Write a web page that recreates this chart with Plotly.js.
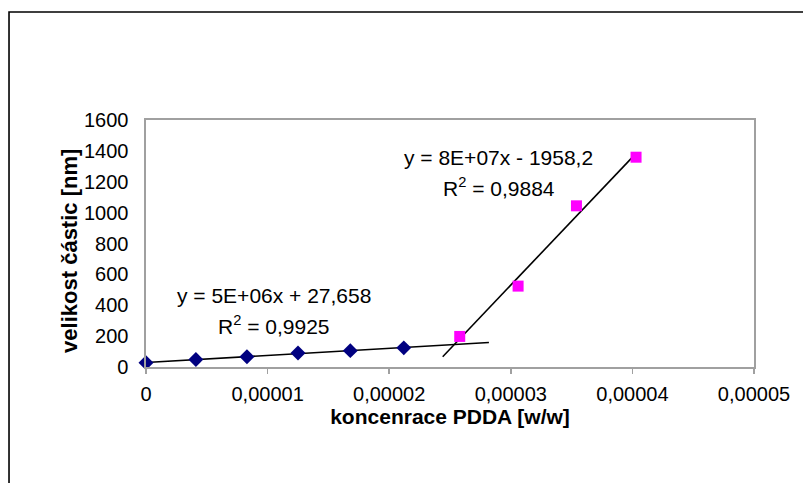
<!DOCTYPE html>
<html>
<head>
<meta charset="utf-8">
<script src="https://cdn.plot.ly/plotly-3.0.1.min.js"></script>
<style>html,body{margin:0;padding:0;background:#fff;}#chart{width:803px;height:483px;}</style>
</head>
<body>
<div id="chart"></div>
<script>
// Series 1 (blue diamonds)
const blueX = [0, 0.0000041, 0.0000083, 0.0000125, 0.0000168, 0.0000212];
const blueY = [27, 48, 66, 91, 106, 124];
// Series 2 (magenta squares)
const pinkX = [0.0000258, 0.0000306, 0.0000354, 0.0000403];
const pinkY = [198, 524, 1044, 1359];
// Trendline labels (as shown)
const blueEq = "y = 5E+06x + 27,658";
const blueR2 = "R<sup>2</sup> = 0,9925";
const pinkEq = "y = 8E+07x - 1958,2";
const pinkR2 = "R<sup>2</sup> = 0,9884";
// Trendline forecast options (like Excel)
const blueForward = 0.000007;
const pinkBackward = 0.0000014;
// Axis ticks
const xTickVals = [0, 0.00001, 0.00002, 0.00003, 0.00004, 0.00005];
const xTickText = ["0", "0,00001", "0,00002", "0,00003", "0,00004", "0,00005"];
const yTickVals = [0, 200, 400, 600, 800, 1000, 1200, 1400, 1600];
const xTitle = "koncenrace PDDA [w/w]";
const yTitle = "velikost částic [nm]";

function fit(xs, ys) {
  const n = xs.length;
  const mx = xs.reduce((a, b) => a + b, 0) / n;
  const my = ys.reduce((a, b) => a + b, 0) / n;
  let sxy = 0, sxx = 0;
  for (let i = 0; i < n; i++) { sxy += (xs[i] - mx) * (ys[i] - my); sxx += (xs[i] - mx) ** 2; }
  const m = sxy / sxx;
  return { m: m, b: my - m * mx };
}
const bf = fit(blueX, blueY);
const pf = fit(pinkX, pinkY);
const bx0 = Math.min(...blueX), bx1 = Math.max(...blueX) + blueForward;
const px0 = Math.min(...pinkX) - pinkBackward, px1 = Math.max(...pinkX);

const font = "Liberation Sans, Arial, sans-serif";

const traces = [
  { x: [bx0, bx1], y: [bf.m * bx0 + bf.b, bf.m * bx1 + bf.b], mode: "lines",
    line: { color: "#000", width: 1.6 }, cliponaxis: false, hoverinfo: "skip", showlegend: false },
  { x: [px0, px1], y: [pf.m * px0 + pf.b, pf.m * px1 + pf.b], mode: "lines",
    line: { color: "#000", width: 1.6 }, cliponaxis: false, hoverinfo: "skip", showlegend: false },
  { x: blueX, y: blueY, mode: "markers", cliponaxis: false, showlegend: false,
    marker: { symbol: "diamond", size: 11.5, color: "#000080" } },
  { x: pinkX, y: pinkY, mode: "markers", cliponaxis: false, showlegend: false,
    marker: { symbol: "square", size: 11, color: "#FF00FF" } }
];

const layout = {
  width: 803, height: 483,
  margin: { l: 146, r: 49, t: 120, b: 116 },
  paper_bgcolor: "#fff", plot_bgcolor: "#fff",
  separators: ", ",
  font: { family: font, size: 20, color: "#000" },
  showlegend: false,
  xaxis: {
    range: [0, 0.00005], tickvals: xTickVals, ticktext: xTickText,
    showgrid: false, zeroline: false, showline: true, linecolor: "#a0a0a0", linewidth: 1.6, mirror: true,
    ticks: "outside", ticklen: 5, tickcolor: "#a0a0a0", tickwidth: 1.5, ticklabelstandoff: 3,
    tickfont: { family: font, size: 20, color: "#000" },
    title: { text: xTitle, font: { family: font, size: 21, color: "#000", weight: "bold" }, standoff: 6 }
  },
  yaxis: {
    range: [0, 1600], tickvals: yTickVals,
    showgrid: false, zeroline: false, showline: true, linecolor: "#a0a0a0", linewidth: 1.6, mirror: true,
    ticks: "", ticklabelstandoff: 12,
    tickfont: { family: font, size: 20, color: "#000" },
    title: { text: "" }
  },
  annotations: [
    { x: -0.153, y: 0.47, xref: "paper", yref: "paper", text: yTitle, textangle: -90, showarrow: false,
      xanchor: "center", yanchor: "middle", xshift: 17, font: { family: font, size: 22, color: "#000", weight: "bold" } },
    { x: 0.00001056, y: 462, xref: "x", yref: "y", text: blueEq, showarrow: false, xanchor: "center", yanchor: "middle", font: { family: font, size: 21, color: "#000" } },
    { x: 0.00001056, y: 275, xref: "x", yref: "y", text: blueR2, showarrow: false, xanchor: "center", yanchor: "middle", font: { family: font, size: 21, color: "#000" } },
    { x: 0.0000290, y: 1354, xref: "x", yref: "y", text: pinkEq, showarrow: false, xanchor: "center", yanchor: "middle", font: { family: font, size: 21, color: "#000" } },
    { x: 0.0000290, y: 1166, xref: "x", yref: "y", text: pinkR2, showarrow: false, xanchor: "center", yanchor: "middle", font: { family: font, size: 21, color: "#000" } }
  ],
  shapes: [
    { type: "rect", xref: "paper", yref: "paper", x0: -0.2253, x1: 1.3, y0: -0.7, y1: 1.4372,
      line: { color: "#000", width: 1.6 }, fillcolor: "rgba(0,0,0,0)" }
  ]
};

Plotly.newPlot("chart", traces, layout, { staticPlot: true });
</script>
</body>
</html>
